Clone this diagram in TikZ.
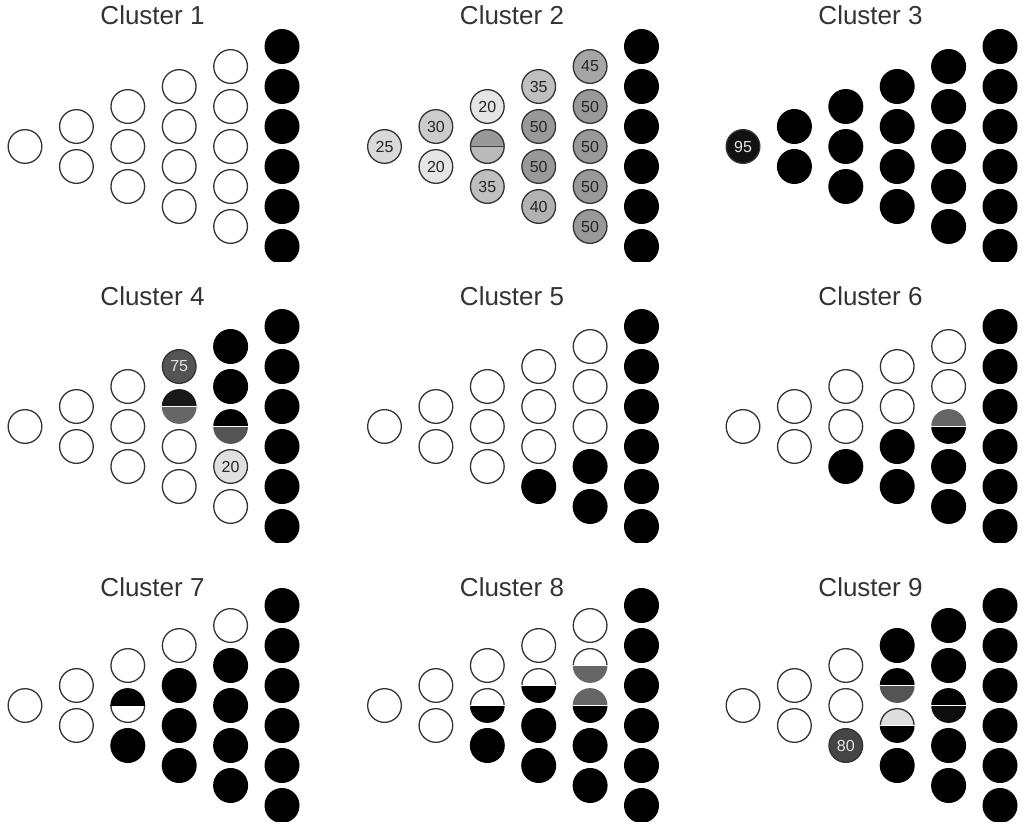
\documentclass[tikz,border=0pt]{standalone}
\usepackage{fontspec}
\setmainfont{Liberation Sans}

\colorlet{edge}{black!80}
\colorlet{numtxt}{black!85}
\colorlet{numlight}{white!90!black}

\newcommand\numfont{\fontsize{16}{16}\selectfont}
\newcommand\titlefont{\fontsize{26}{26}\selectfont}

\tikzset{
  dot/.style={circle, inner sep=0pt, minimum size=33.7pt, line width=1.3pt},
  wdot/.style={dot, draw=edge, fill=white},
  kdot/.style={dot, draw=black, fill=black},
  ndot/.style={dot, draw=edge, font=\numfont},
  ttl/.style={anchor=base, font=\titlefont, text=black!80, inner sep=0pt},
}

% column #1 (1..6) holds #1 circles, row #2 counted from the top
\newcommand\CircW[2]{\node[wdot] (c\clno-#1-#2) at ({(#1-1)*51.4},{((#1+1)/2-#2)*40}) {};}
\newcommand\CircK[2]{\node[kdot] (c\clno-#1-#2) at ({(#1-1)*51.4},{((#1+1)/2-#2)*40}) {};}
\newcommand\RunW[3]{\foreach \ii in {#2,...,#3}{\CircW{#1}{\ii}}}
\newcommand\RunK[3]{\foreach \ii in {#2,...,#3}{\CircK{#1}{\ii}}}
% numbered circle: col, row, value, fill, text colour
\newcommand\CircN[5]{\node[ndot, fill=#4, text=#5] (c\clno-#1-#2) at ({(#1-1)*51.4},{((#1+1)/2-#2)*40}) {#3};}
% split circle: col, row, upper fill, lower fill, upper rim, lower rim, divider
\newcommand\CircS[7]{%
  \coordinate (c\clno-#1-#2) at ({(#1-1)*51.4},{((#1+1)/2-#2)*40});
  \fill[fill=#3] (c\clno-#1-#2) ++(17.4pt,0pt) arc[start angle=0,end angle=180,radius=17.4pt] -- cycle;
  \fill[fill=#4] (c\clno-#1-#2) ++(-17.4pt,0pt) arc[start angle=180,end angle=360,radius=17.4pt] -- cycle;
  \draw[draw=#5, line width=1.3pt] (c\clno-#1-#2) ++(16.85pt,0pt) arc[start angle=0,end angle=180,radius=16.85pt];
  \draw[draw=#6, line width=1.3pt] (c\clno-#1-#2) ++(-16.85pt,0pt) arc[start angle=180,end angle=360,radius=16.85pt];
  \draw[draw=#7, line width=1.4pt] (c\clno-#1-#2) ++(-17.4pt,0pt) -- ++(34.8pt,0pt);
}

% one panel: number, origin (centre of the first circle), title baseline, circles
\newcommand\Panel[5]{%
  \begin{scope}[shift={(#2,#3)}]
    \def\clno{#1}
    \node[ttl] (title#1) at (127.5,#4) {Cluster #1};
    \begin{scope}
      \clip (-30,-115.5) rectangle (290,140);
      #5
    \end{scope}
  \end{scope}}

\begin{document}
\begin{tikzpicture}[x=1pt,y=1pt]
\useasboundingbox (0,0) rectangle (1022,-826);

\Panel{1}{25}{-146.5}{121.5}{%
  \RunW{1}{1}{1}\RunW{2}{1}{2}\RunW{3}{1}{3}\RunW{4}{1}{4}\RunW{5}{1}{5}\RunK{6}{1}{6}}

\Panel{2}{384.5}{-146.5}{121.5}{%
  \CircN{1}{1}{25}{black!15}{numtxt}
  \CircN{2}{1}{30}{black!20}{numtxt}
  \CircN{2}{2}{20}{black!10}{numtxt}
  \CircN{3}{1}{20}{black!10}{numtxt}
  \CircS{3}{2}{black!40}{black!27}{edge}{edge}{black!75}
  \CircN{3}{3}{35}{black!25}{numtxt}
  \CircN{4}{1}{35}{black!25}{numtxt}
  \CircN{4}{2}{50}{black!40}{numtxt}
  \CircN{4}{3}{50}{black!40}{numtxt}
  \CircN{4}{4}{40}{black!30}{numtxt}
  \CircN{5}{1}{45}{black!35}{numtxt}
  \CircN{5}{2}{50}{black!40}{numtxt}
  \CircN{5}{3}{50}{black!40}{numtxt}
  \CircN{5}{4}{50}{black!40}{numtxt}
  \CircN{5}{5}{50}{black!40}{numtxt}
  \RunK{6}{1}{6}}

\Panel{3}{743}{-146.5}{121.5}{%
  \CircN{1}{1}{95}{black!93}{numlight}
  \RunK{2}{1}{2}\RunK{3}{1}{3}\RunK{4}{1}{4}\RunK{5}{1}{5}\RunK{6}{1}{6}}

\Panel{4}{25}{-426.5}{121.5}{%
  \RunW{1}{1}{1}\RunW{2}{1}{2}\RunW{3}{1}{3}
  \CircN{4}{1}{75}{black!67}{numlight}
  \CircS{4}{2}{black!90}{black!60}{none}{none}{white}
  \RunW{4}{3}{4}
  \RunK{5}{1}{2}
  \CircS{5}{3}{black}{black!67}{none}{none}{white}
  \CircN{5}{4}{20}{black!12}{numtxt}
  \CircW{5}{5}
  \RunK{6}{1}{6}}

\Panel{5}{384.5}{-426.5}{121.5}{%
  \RunW{1}{1}{1}\RunW{2}{1}{2}\RunW{3}{1}{3}
  \RunW{4}{1}{3}\CircK{4}{4}
  \RunW{5}{1}{3}\RunK{5}{4}{5}
  \RunK{6}{1}{6}}

\Panel{6}{743}{-426.5}{121.5}{%
  \RunW{1}{1}{1}\RunW{2}{1}{2}
  \RunW{3}{1}{2}\CircK{3}{3}
  \RunW{4}{1}{2}\RunK{4}{3}{4}
  \RunW{5}{1}{2}
  \CircS{5}{3}{black!60}{black}{none}{none}{white}
  \RunK{5}{4}{5}
  \RunK{6}{1}{6}}

\Panel{7}{25}{-705.5}{109.5}{%
  \RunW{1}{1}{1}\RunW{2}{1}{2}
  \CircW{3}{1}
  \CircS{3}{2}{black}{white}{none}{edge}{black}
  \CircK{3}{3}
  \CircW{4}{1}\RunK{4}{2}{4}
  \CircW{5}{1}\RunK{5}{2}{5}
  \RunK{6}{1}{6}}

\Panel{8}{384.5}{-705.5}{109.5}{%
  \RunW{1}{1}{1}\RunW{2}{1}{2}
  \CircW{3}{1}
  \CircS{3}{2}{white}{black}{edge}{none}{white}
  \CircK{3}{3}
  \CircW{4}{1}
  \CircS{4}{2}{white}{black}{edge}{none}{white}
  \RunK{4}{3}{4}
  \CircW{5}{1}
  \CircS{5}{2}{white}{black!60}{edge}{none}{white}
  \CircS{5}{3}{black!60}{black}{none}{none}{white}
  \RunK{5}{4}{5}
  \RunK{6}{1}{6}}

\Panel{9}{743}{-705.5}{109.5}{%
  \RunW{1}{1}{1}\RunW{2}{1}{2}
  \RunW{3}{1}{2}
  \CircN{3}{3}{80}{black!73}{numlight}
  \CircK{4}{1}
  \CircS{4}{2}{black}{black!67}{none}{none}{white}
  \CircS{4}{3}{black!13}{black}{edge}{none}{white}
  \CircK{4}{4}
  \RunK{5}{1}{2}
  \CircS{5}{3}{black}{black!95}{none}{none}{white}
  \RunK{5}{4}{5}
  \RunK{6}{1}{6}}

\end{tikzpicture}
\end{document}
